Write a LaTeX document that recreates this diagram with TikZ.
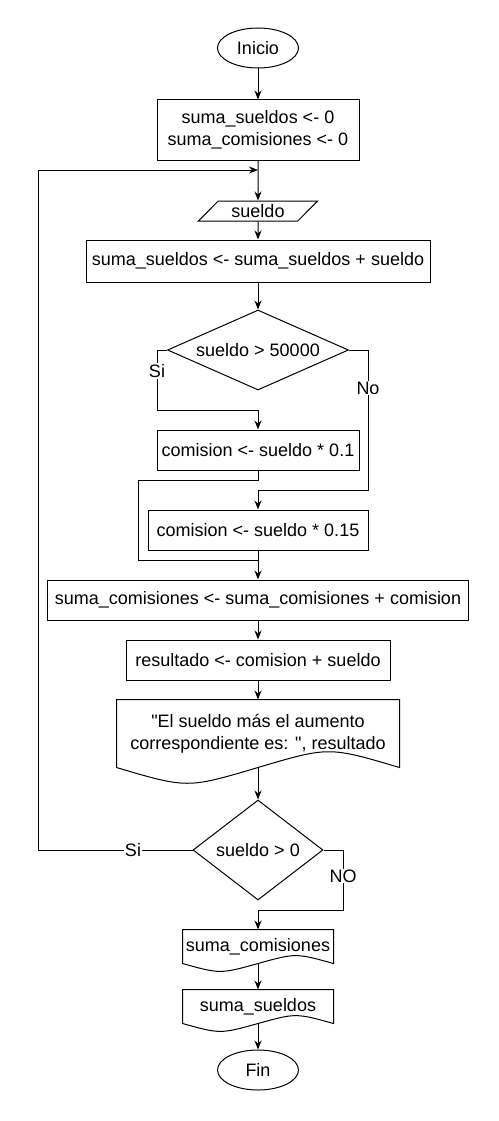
\documentclass[tikz,border=0pt]{standalone}
\usepackage{fontspec}
\setmainfont{Liberation Sans}[Ligatures=TeXOff]
\usetikzlibrary{shapes.geometric,arrows.meta,calc}

\tikzset{
  caja/.style={draw, rectangle, inner sep=0pt, align=center},
  terminal/.style={draw, ellipse, inner sep=0pt, minimum width=81pt, minimum height=40pt},
  decision/.style={draw, diamond, inner sep=0pt},
  entrada/.style={draw, trapezium, trapezium left angle=45, trapezium right angle=135,
    trapezium stretches=true, inner sep=0pt},
  documento/.style={rectangle, inner sep=0pt, align=center},
  flecha/.style={-{Stealth[length=9pt,width=7pt]}},
  etiq/.style={fill=white, inner sep=1pt},
}

\begin{document}
\begin{tikzpicture}[x=1pt, y=-1pt, line width=1pt, font=\fontsize{18}{22.5}\selectfont]
\useasboundingbox (0,0) rectangle (498,1121);

\node[terminal] (inicio) at (258,48) {Inicio};
\node[caja, minimum width=202pt, minimum height=60pt] (init) at (258,130)
  {suma\_sueldos <- 0\\suma\_comisiones <- 0};
\coordinate (union) at (258,170);
\node[entrada, minimum width=120pt, minimum height=20pt] (leer) at (258,211) {sueldo};
\node[caja, minimum width=344pt, minimum height=42pt] (suma1) at (258,261)
  {suma\_sueldos <- suma\_sueldos + sueldo};
\node[decision, aspect=2.26, minimum width=181pt, minimum height=80pt] (dec1) at (258,350) {sueldo > 50000};
\node[caja, minimum width=202pt, minimum height=40pt] (com1) at (258,450) {comision <- sueldo * 0.1};
\node[caja, minimum width=220pt, minimum height=40pt] (com2) at (258,530) {comision <- sueldo * 0.15};
\node[caja, minimum width=421pt, minimum height=40pt] (suma2) at (258,600)
  {suma\_comisiones <- suma\_comisiones + comision};
\node[caja, minimum width=264pt, minimum height=40pt] (res) at (258,660) {resultado <- comision + sueldo};
\node[documento, minimum width=282pt, minimum height=67pt] (salida) at (258,733.5)
  {"El sueldo más el aumento\\correspondiente es: ", resultado};
\node[decision, aspect=1.3, minimum width=130pt, minimum height=100pt] (dec2) at (258,850) {sueldo > 0};
\node[documento, minimum width=150pt, minimum height=33pt] (outcom) at (258,946.5) {suma\_comisiones};
\node[documento, minimum width=150pt, minimum height=33pt] (outsue) at (258,1006.5) {suma\_sueldos};
\node[terminal] (fin) at (258,1070) {Fin};

% contorno de los documentos
\foreach \d/\a in {salida/21, outcom/10.5, outsue/10.5} {
  \draw (\d.south west) -- (\d.north west) -- (\d.north east) -- (\d.south east)
    .. controls ($(\d.south east)!0.25!(\d.south west)+(0,-\a)$) .. (\d.south)
    .. controls ($(\d.south west)!0.25!(\d.south east)+(0,\a)$) .. (\d.south west) -- cycle;
}

\foreach \a/\b in {inicio/init, init/leer, leer/suma1, suma1/dec1, com2/suma2,
                   suma2/res, res/salida, salida/dec2, outcom/outsue, outsue/fin} {
  \draw[flecha] (\a.south) -- (\b.north);
}

\draw[flecha] (dec1.west) -| (157,410) -| (com1.north);
\draw[flecha] (dec1.east) -| (368,490) -| (com2.north);
\draw (com1.south) |- (138,480) |- (258,560);
\draw[flecha] (dec2.west) -| (38,170) -- (union);
\draw[flecha] (dec2.east) -| (343,910) -| (outcom.north);

\node[etiq] (si1) at (157,371) {Si};
\node[etiq] (no1) at (368,388) {No};
\node[etiq] (si2) at (133,850) {Si};
\node[etiq] (no2) at (343,876) {NO};
\end{tikzpicture}
\end{document}
